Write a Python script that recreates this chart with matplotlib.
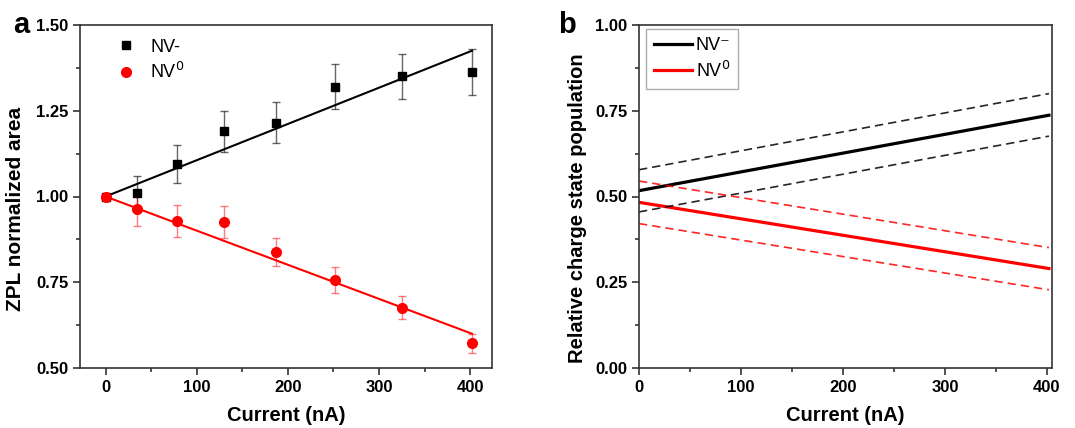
import numpy as np
import matplotlib.pyplot as plt
from matplotlib.ticker import MultipleLocator

plt.rcParams['font.family'] = ['Liberation Sans', 'DejaVu Sans']

# panel a: ZPL normalized area vs current
current = [0, 34, 78, 130, 187, 252, 325, 402]
nvm_area = [1.0, 1.01, 1.095, 1.19, 1.215, 1.32, 1.35, 1.362]
nvm_err = [0.0, 0.05, 0.055, 0.06, 0.06, 0.065, 0.066, 0.067]
nv0_area = [1.0, 0.963, 0.928, 0.926, 0.837, 0.757, 0.676, 0.572]
nv0_err = [0.0, 0.048, 0.047, 0.046, 0.041, 0.038, 0.033, 0.028]
fit_x = [0, 402]
nvm_fit = [1.0, 1.425]
nv0_fit = [1.0, 0.6]

# panel b: relative charge state population (fit and confidence bounds)
pop_x = [0, 402]
nvm_pop = [0.517, 0.737]
nvm_hi = [0.578, 0.80]
nvm_lo = [0.455, 0.676]
nv0_pop = [0.483, 0.29]
nv0_hi = [0.545, 0.351]
nv0_lo = [0.421, 0.228]

fig = plt.figure(figsize=(10.75, 4.28), dpi=100)
ax1 = fig.add_axes([80 / 1075, 60 / 428, 412 / 1075, 343 / 428])
ax2 = fig.add_axes([639 / 1075, 60 / 428, 413 / 1075, 343 / 428])

red = '#ff0000'
dash = (0, (5, 3))

ax1.plot(fit_x, nvm_fit, color='black', lw=1.5, zorder=2)
ax1.plot(fit_x, nv0_fit, color=red, lw=1.5, zorder=2)
ax1.errorbar(current, nvm_area, yerr=nvm_err, fmt='none', ecolor='black',
             alpha=0.6, capsize=3, elinewidth=1, capthick=1, zorder=3)
ax1.errorbar(current, nv0_area, yerr=nv0_err, fmt='none', ecolor=red,
             alpha=0.5, capsize=3, elinewidth=1, capthick=1, zorder=3)
ax1.plot(current, nvm_area, 's', color='black', ms=6, label='NV-', zorder=4)
ax1.plot(current, nv0_area, 'o', color=red, ms=7, label='NV$^0$', zorder=4)
ax1.set_xlim(-28, 424)
ax1.set_ylim(0.5, 1.5)
ax1.xaxis.set_major_locator(MultipleLocator(100))
ax1.xaxis.set_minor_locator(MultipleLocator(50))
ax1.yaxis.set_major_locator(MultipleLocator(0.25))
ax1.yaxis.set_minor_locator(MultipleLocator(0.125))
ax1.set_xlabel('Current (nA)', fontsize=14.5, fontweight='bold', labelpad=8)
ax1.set_ylabel('ZPL normalized area', fontsize=15, fontweight='bold')
ax1.yaxis.set_label_coords(-0.133, 0.465)
ax1.legend(loc='upper left', frameon=False, fontsize=13, handletextpad=0.35,
           bbox_to_anchor=(0.028, 1.008), labelspacing=0.35)
ax1.text(-0.163, 1.0, 'a', transform=ax1.transAxes, fontsize=21,
         fontweight='bold', va='center', ha='left')

ax2.plot(pop_x, nvm_pop, color='black', lw=2.3, label='NV\u207b')
ax2.plot(pop_x, nv0_pop, color=red, lw=2.3, label='NV$^0$')
ax2.plot(pop_x, nvm_hi, color='black', lw=1.2, ls=dash, alpha=0.85)
ax2.plot(pop_x, nvm_lo, color='black', lw=1.2, ls=dash, alpha=0.85)
ax2.plot(pop_x, nv0_hi, color=red, lw=1.2, ls=dash, alpha=0.85)
ax2.plot(pop_x, nv0_lo, color=red, lw=1.2, ls=dash, alpha=0.85)
ax2.set_xlim(0, 405)
ax2.set_ylim(0, 1.0)
ax2.xaxis.set_major_locator(MultipleLocator(100))
ax2.xaxis.set_minor_locator(MultipleLocator(50))
ax2.yaxis.set_major_locator(MultipleLocator(0.25))
ax2.yaxis.set_minor_locator(MultipleLocator(0.125))
ax2.set_xlabel('Current (nA)', fontsize=14.5, fontweight='bold', labelpad=8)
ax2.set_ylabel('Relative charge state population', fontsize=14.5,
               fontweight='bold')
ax2.yaxis.set_label_coords(-0.126, 0.465)
leg = ax2.legend(loc='upper left', fontsize=13, fancybox=False,
                 edgecolor='#999999', handlelength=2.1, handletextpad=0.2,
                 borderpad=0.45, labelspacing=0.35, borderaxespad=0,
                 bbox_to_anchor=(0.017, 0.988))
leg.get_frame().set_linewidth(1)
ax2.text(-0.196, 1.0, 'b', transform=ax2.transAxes, fontsize=21,
         fontweight='bold', va='center', ha='left')

for ax in (ax1, ax2):
    for s in ax.spines.values():
        s.set_linewidth(1.2)
        s.set_color('#333333')
    ax.tick_params(which='both', direction='out', top=False, right=False,
                   width=1.2, color='#333333')
    ax.tick_params(which='major', length=5, labelsize=12)
    ax.tick_params(which='minor', length=3)
    for lab in ax.get_xticklabels() + ax.get_yticklabels():
        lab.set_fontweight('bold')

fig.savefig('out.png', dpi=100)
